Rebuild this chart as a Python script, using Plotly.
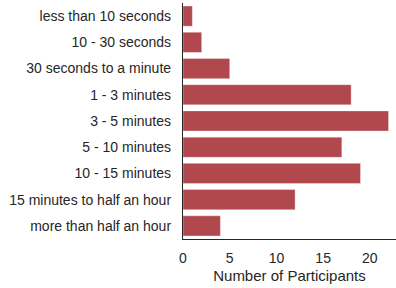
import plotly.graph_objects as go

categories = ["less than 10 seconds", "10 - 30 seconds", "30 seconds to a minute",
              "1 - 3 minutes", "3 - 5 minutes", "5 - 10 minutes", "10 - 15 minutes",
              "15 minutes to half an hour", "more than half an hour"]
participants = [1, 2, 5, 18, 22, 17, 19, 12, 4]
x_ticks = [0, 5, 10, 15, 20]

fig = go.Figure(go.Bar(
    x=participants, y=categories, orientation="h",
    marker=dict(color="#B0484E", line=dict(color="rgba(255,255,255,0.35)", width=1)),
    width=0.77,
))

font = "Liberation Sans, Arial, sans-serif"
fig.update_layout(
    width=396, height=288,
    margin=dict(l=183, r=0, t=3, b=49),
    paper_bgcolor="white", plot_bgcolor="white",
    showlegend=False,
    font=dict(family=font, color="#262626", size=14),
    xaxis=dict(range=[0, 22.8], tickvals=x_ticks, showgrid=False, zeroline=False,
               showline=True, linecolor="#262626", linewidth=1.25, ticks="",
               tickfont=dict(size=14), ticklabelstandoff=6, automargin=False,
               title=dict(text="Number of Participants", font=dict(size=15), standoff=5)),
    yaxis=dict(categoryorder="array", categoryarray=categories, range=[8.5, -0.5],
               showgrid=False, zeroline=False, showline=True, linecolor="#262626",
               linewidth=1.25, ticks="", tickfont=dict(size=14), ticklabelstandoff=8,
               automargin=False),
)

fig.write_html("out.html", config={"displayModeBar": False},
               post_script="document.body.style.margin='0';")
